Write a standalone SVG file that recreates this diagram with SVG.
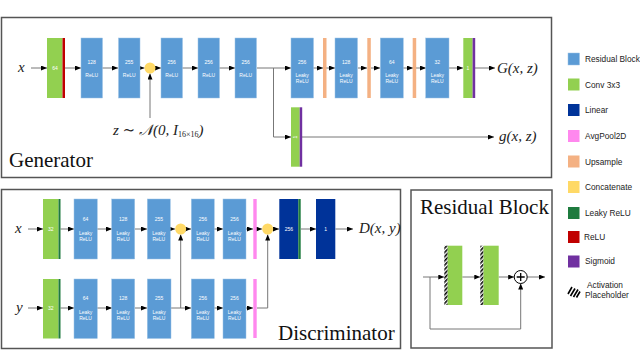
<svg xmlns="http://www.w3.org/2000/svg" width="640" height="351" viewBox="0 0 640 351">
<defs>
<marker id="ah" markerUnits="userSpaceOnUse" markerWidth="6" markerHeight="5" refX="6" refY="2.5" orient="auto"><path d="M0,0 L6,2.5 L0,5 z" fill="#000"/></marker>
<pattern id="hatch" patternUnits="userSpaceOnUse" width="3" height="3" patternTransform="rotate(45)"><rect width="3" height="3" fill="#fff"/><rect width="1.6" height="3" fill="#000"/></pattern>
<style>
.frame{fill:#fff;stroke:#555;stroke-width:1.5}
.rb{fill:#5B9BD5;stroke:#9DC3E6;stroke-width:0.5}
.cv{fill:#92D050}
.lin{fill:#003399}
.ap{fill:#FF88EE}
.up{fill:#F4B183}
.cc{fill:#FFD966}
.lr{fill:#1E7B3E}
.re{fill:#C00000}
.sg{fill:#7030A0}
.bt{font-family:"Liberation Sans",Arial,sans-serif;font-size:5px;fill:#fff;text-anchor:middle}
.lg{font-family:"Liberation Sans",Arial,sans-serif;font-size:8.3px;fill:#222}
.ttl{font-family:"Liberation Serif","Times New Roman",serif;font-size:21px;fill:#111}
.m{font-family:"Liberation Serif","DejaVu Serif",serif;font-style:italic;font-size:15px;fill:#222}
.cn{fill:none;stroke:#777;stroke-width:1}
.ca{fill:none;stroke:#777;stroke-width:1;marker-end:url(#ah)}
</style>
</defs>
<rect x="0" y="0" width="640" height="351" fill="#fff"/>

<g id="generator-frame"><rect class="frame" x="1.5" y="17.5" width="550" height="160"/>
<text class="ttl" x="9" y="167">Generator</text></g>
<g id="discriminator-frame"><rect class="frame" x="1.5" y="189.5" width="399" height="159"/>
<text class="ttl" x="278" y="340">Discriminator</text></g>
<g id="residual-frame"><rect class="frame" x="411" y="190" width="141" height="158"/>
<text class="ttl" x="420" y="214">Residual Block</text></g>

<!-- connectors -->
<g id="connectors">
<!-- generator -->
<line class="ca" x1="31" y1="68" x2="47" y2="68"/>
<line class="ca" x1="65" y1="68" x2="81" y2="68"/>
<line class="ca" x1="102" y1="68" x2="118" y2="68"/>
<line class="ca" x1="140" y1="68" x2="144.5" y2="68"/>
<line class="ca" x1="155.5" y1="68" x2="161" y2="68"/>
<line class="ca" x1="150" y1="118" x2="150" y2="73.5"/>
<line class="ca" x1="182" y1="68" x2="198" y2="68"/>
<line class="ca" x1="219" y1="68" x2="235" y2="68"/>
<line class="ca" x1="257" y1="68" x2="291" y2="68"/>
<line class="ca" x1="313" y1="68" x2="323" y2="68"/>
<line class="ca" x1="326" y1="68" x2="335" y2="68"/>
<line class="ca" x1="358" y1="68" x2="367" y2="68"/>
<line class="ca" x1="371" y1="68" x2="380" y2="68"/>
<line class="ca" x1="403" y1="68" x2="413" y2="68"/>
<line class="ca" x1="416" y1="68" x2="426" y2="68"/>
<line class="ca" x1="449" y1="68" x2="463" y2="68"/>
<line class="ca" x1="475" y1="68" x2="495" y2="68"/>
<polyline class="ca" points="273.5,68 273.5,137 291,137"/>
<line class="ca" x1="302" y1="137" x2="494" y2="137"/>
<!-- discriminator -->
<line class="ca" x1="28" y1="229" x2="43" y2="229"/>
<line class="ca" x1="60.5" y1="229" x2="74" y2="229"/>
<line class="ca" x1="97" y1="229" x2="112" y2="229"/>
<line class="ca" x1="135" y1="229" x2="147" y2="229"/>
<line class="ca" x1="170" y1="229" x2="175.2" y2="229"/>
<line class="ca" x1="186.2" y1="229" x2="191" y2="229"/>
<line class="ca" x1="214" y1="229" x2="223" y2="229"/>
<line class="ca" x1="246" y1="229" x2="253" y2="229"/>
<line class="ca" x1="257" y1="229" x2="262.2" y2="229"/>
<line class="ca" x1="273.2" y1="229" x2="279" y2="229"/>
<line class="ca" x1="301" y1="229" x2="316" y2="229"/>
<line class="ca" x1="335.5" y1="229" x2="353" y2="229"/>
<line class="ca" x1="28" y1="308" x2="43" y2="308"/>
<line class="ca" x1="60.5" y1="308" x2="74" y2="308"/>
<line class="ca" x1="97" y1="308" x2="112" y2="308"/>
<line class="ca" x1="135" y1="308" x2="147" y2="308"/>
<line class="ca" x1="171" y1="308" x2="191" y2="308"/>
<line class="ca" x1="180.7" y1="308" x2="180.7" y2="234.5"/>
<line class="ca" x1="214" y1="308" x2="223" y2="308"/>
<line class="ca" x1="246" y1="308" x2="253" y2="308"/>
<polyline class="ca" points="257,308 267.7,308 267.7,234.5"/>
<!-- residual block -->
<line class="ca" x1="423" y1="277" x2="444.3" y2="277"/>
<polyline class="ca" points="430,277 430,329 520.7,329 520.7,283.5"/>
<line class="ca" x1="462.3" y1="277" x2="480.3" y2="277"/>
<line class="ca" x1="498.7" y1="277" x2="514.2" y2="277"/>
<line class="ca" x1="527.2" y1="277" x2="545" y2="277"/>
</g>

<!-- generator labels -->
<g id="gen-x"><text class="m" x="18" y="72">x</text></g>
<g id="gen-z"><text class="m" x="113" y="135">z ∼ 𝒩(0, <tspan>I</tspan><tspan font-size="8" font-style="normal" dy="2">16×16</tspan><tspan dy="-2">)</tspan></text></g>
<g id="gen-out"><text class="m" x="497" y="73">G(x, z)</text></g>
<g id="gen-out2"><text class="m" x="499" y="141">g(x, z)</text></g>

<!-- generator nodes -->
<g id="g-conv64"><rect class="cv" x="47" y="38" width="15.5" height="60"/><rect class="re" x="62.5" y="38" width="2.5" height="60"/><text class="bt" x="55" y="70">64</text></g>
<g id="g-rb128"><rect class="rb" x="81" y="38" width="21.5" height="60"/><text class="bt" x="91.7" y="63.5">128</text><text class="bt" x="91.7" y="76.5">ReLU</text></g>
<g id="g-rb255"><rect class="rb" x="118.5" y="38" width="21.5" height="60"/><text class="bt" x="129.2" y="63.5">255</text><text class="bt" x="129.2" y="76.5">ReLU</text></g>
<g id="g-concat"><circle class="cc" cx="150" cy="68" r="5.5"/></g>
<g id="g-rb256a"><rect class="rb" x="161" y="38" width="21.5" height="60"/><text class="bt" x="171.7" y="63.5">256</text><text class="bt" x="171.7" y="76.5">ReLU</text></g>
<g id="g-rb256b"><rect class="rb" x="198" y="38" width="21.5" height="60"/><text class="bt" x="208.7" y="63.5">256</text><text class="bt" x="208.7" y="76.5">ReLU</text></g>
<g id="g-rb256c"><rect class="rb" x="235" y="38" width="21.5" height="60"/><text class="bt" x="245.7" y="63.5">256</text><text class="bt" x="245.7" y="76.5">ReLU</text></g>
<g id="g-rb256l"><rect class="rb" x="291" y="38" width="22.5" height="60"/><text class="bt" x="302.2" y="63.5">256</text><text class="bt" x="302.2" y="76.5">Leaky</text><text class="bt" x="302.2" y="82.5">ReLU</text></g>
<g id="g-up1"><rect class="up" x="323" y="38" width="3.5" height="60"/></g>
<g id="g-rb128l"><rect class="rb" x="335" y="38" width="22.5" height="60"/><text class="bt" x="346.2" y="63.5">128</text><text class="bt" x="346.2" y="76.5">Leaky</text><text class="bt" x="346.2" y="82.5">ReLU</text></g>
<g id="g-up2"><rect class="up" x="367.3" y="38" width="3.5" height="60"/></g>
<g id="g-rb64l"><rect class="rb" x="380.3" y="38" width="23" height="60"/><text class="bt" x="391.8" y="63.5">64</text><text class="bt" x="391.8" y="76.5">Leaky</text><text class="bt" x="391.8" y="82.5">ReLU</text></g>
<g id="g-up3"><rect class="up" x="412.7" y="38" width="3.5" height="60"/></g>
<g id="g-rb32l"><rect class="rb" x="425.7" y="38" width="23.3" height="60"/><text class="bt" x="437.3" y="63.5">32</text><text class="bt" x="437.3" y="76.5">Leaky</text><text class="bt" x="437.3" y="82.5">ReLU</text></g>
<g id="g-conv1"><rect class="cv" x="463.3" y="38" width="9.3" height="60"/><rect class="sg" x="472.6" y="38" width="2.6" height="60"/><text class="bt" x="468" y="70">1</text></g>
<g id="g-conv1b"><rect class="cv" x="291" y="107.3" width="8.7" height="59.4"/><rect class="sg" x="299.7" y="107.3" width="2.5" height="59.4"/><text class="bt" transform="translate(297,137) rotate(-90)">1</text></g>

<!-- discriminator labels -->
<g id="d-x"><text class="m" x="15" y="233">x</text></g>
<g id="d-y"><text class="m" x="16" y="312">y</text></g>
<g id="d-out"><text class="m" x="359" y="233">D(x, y)</text></g>

<!-- discriminator nodes, top row -->
<g id="d-conv-x"><rect class="cv" x="43" y="199" width="15.5" height="60"/><rect class="lr" x="58.5" y="199" width="2" height="60"/><text class="bt" x="50.7" y="231">32</text></g>
<g id="d-x64"><rect class="rb" x="74" y="199" width="23.3" height="60"/><text class="bt" x="85.6" y="221">64</text><text class="bt" x="85.6" y="234.5">Leaky</text><text class="bt" x="85.6" y="240.7">ReLU</text></g>
<g id="d-x128"><rect class="rb" x="111.7" y="199" width="23" height="60"/><text class="bt" x="123.2" y="221">128</text><text class="bt" x="123.2" y="234.5">Leaky</text><text class="bt" x="123.2" y="240.7">ReLU</text></g>
<g id="d-x255"><rect class="rb" x="147.3" y="199" width="23" height="60"/><text class="bt" x="158.8" y="221">255</text><text class="bt" x="158.8" y="234.5">Leaky</text><text class="bt" x="158.8" y="240.7">ReLU</text></g>
<g id="d-concat1"><circle class="cc" cx="180.7" cy="229" r="5.5"/></g>
<g id="d-x256a"><rect class="rb" x="191.3" y="199" width="23" height="60"/><text class="bt" x="202.8" y="221">256</text><text class="bt" x="202.8" y="234.5">Leaky</text><text class="bt" x="202.8" y="240.7">ReLU</text></g>
<g id="d-x256b"><rect class="rb" x="223" y="199" width="23" height="60"/><text class="bt" x="234.5" y="221">256</text><text class="bt" x="234.5" y="234.5">Leaky</text><text class="bt" x="234.5" y="240.7">ReLU</text></g>
<g id="d-pool-x"><rect class="ap" x="253.3" y="199" width="3.4" height="60"/></g>
<g id="d-concat2"><circle class="cc" cx="267.7" cy="229" r="5.5"/></g>
<g id="d-lin256"><rect class="lin" x="279.3" y="199" width="19" height="60"/><rect class="lr" x="298.3" y="199" width="2.4" height="60"/><text class="bt" x="288.8" y="231">256</text></g>
<g id="d-lin1"><rect class="lin" x="316" y="199" width="19.3" height="60"/><text class="bt" x="325.6" y="231">1</text></g>

<!-- discriminator nodes, bottom row -->
<g id="d-conv-y"><rect class="cv" x="43" y="279" width="15.5" height="59.5"/><rect class="lr" x="58.5" y="279" width="2" height="59.5"/><text class="bt" x="50.7" y="310">32</text></g>
<g id="d-y64"><rect class="rb" x="74" y="279" width="23.3" height="59.5"/><text class="bt" x="85.6" y="300">64</text><text class="bt" x="85.6" y="313.5">Leaky</text><text class="bt" x="85.6" y="319.7">ReLU</text></g>
<g id="d-y128"><rect class="rb" x="111.7" y="279" width="23" height="59.5"/><text class="bt" x="123.2" y="300">128</text><text class="bt" x="123.2" y="313.5">Leaky</text><text class="bt" x="123.2" y="319.7">ReLU</text></g>
<g id="d-y255"><rect class="rb" x="147.3" y="279" width="23.7" height="59.5"/><text class="bt" x="159.1" y="300">255</text><text class="bt" x="159.1" y="313.5">Leaky</text><text class="bt" x="159.1" y="319.7">ReLU</text></g>
<g id="d-y256a"><rect class="rb" x="191.3" y="279" width="23" height="59.5"/><text class="bt" x="202.8" y="300">256</text><text class="bt" x="202.8" y="313.5">Leaky</text><text class="bt" x="202.8" y="319.7">ReLU</text></g>
<g id="d-y256b"><rect class="rb" x="223" y="279" width="23" height="59.5"/><text class="bt" x="234.5" y="300">256</text><text class="bt" x="234.5" y="313.5">Leaky</text><text class="bt" x="234.5" y="319.7">ReLU</text></g>
<g id="d-pool-y"><rect class="ap" x="253.3" y="279" width="3.4" height="59"/></g>

<!-- residual block nodes -->
<g id="r-conv1"><rect x="444.3" y="245.7" width="3.4" height="59.3" fill="url(#hatch)"/><rect class="cv" x="447.7" y="245.7" width="14.6" height="59.3"/></g>
<g id="r-conv2"><rect x="480.3" y="245.7" width="3.2" height="59.3" fill="url(#hatch)"/><rect class="cv" x="483.5" y="245.7" width="15.2" height="59.3"/></g>
<g id="r-sum"><circle cx="520.7" cy="277" r="6.5" fill="#fff" stroke="#000" stroke-width="1"/><path d="M516.7,277 H524.7 M520.7,273 V281" stroke="#000" stroke-width="1.3"/></g>

<!-- legend -->
<g id="legend">
<rect class="rb" x="568" y="53" width="11.5" height="12"/><text class="lg" x="585" y="62">Residual Block</text>
<rect class="cv" x="568" y="78.5" width="11.5" height="12"/><text class="lg" x="585" y="87.5">Conv 3x3</text>
<rect class="lin" x="568" y="104" width="11.5" height="12"/><text class="lg" x="585" y="113">Linear</text>
<rect class="ap" x="568" y="130" width="11.5" height="12"/><text class="lg" x="585" y="139">AvgPool2D</text>
<rect class="up" x="568" y="155.5" width="11.5" height="12"/><text class="lg" x="585" y="164.5">Upsample</text>
<rect class="cc" x="568" y="181" width="11.5" height="12"/><text class="lg" x="585" y="190">Concatenate</text>
<rect class="lr" x="568" y="207" width="11.5" height="12"/><text class="lg" x="585" y="216">Leaky ReLU</text>
<rect class="re" x="568" y="231" width="11.5" height="12"/><text class="lg" x="584" y="240">ReLU</text>
<rect class="sg" x="568" y="255.5" width="11.5" height="12"/><text class="lg" x="585" y="264">Sigmoid</text>
<path d="M568,294 L572,287 M570.5,296 L575,288.5 M573.5,297 L578,289.5 M576.5,297.5 L580,291.5" stroke="#000" stroke-width="1.6"/>
<text class="lg" x="587" y="288">Activation</text><text class="lg" x="585" y="298">Placeholder</text>
</g>
</svg>
